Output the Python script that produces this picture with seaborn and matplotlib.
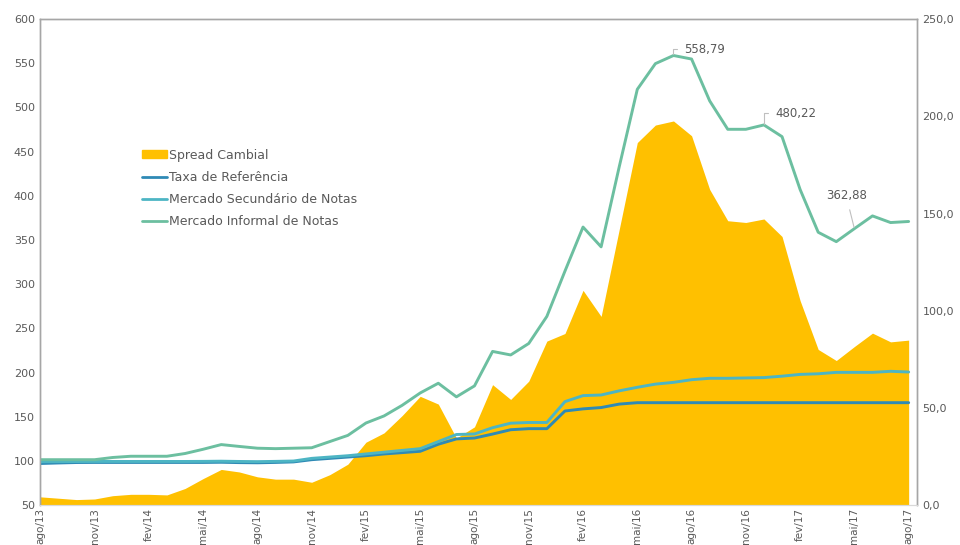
import matplotlib
matplotlib.use("Agg")
import matplotlib.pyplot as plt
import seaborn as sns
import pandas as pd
import numpy as np
from matplotlib.patches import Patch
from matplotlib.lines import Line2D

# monthly series, ago/13 .. ago/17
meses_pt = ["jan", "fev", "mar", "abr", "mai", "jun", "jul", "ago", "set", "out", "nov", "dez"]
periodos = pd.period_range("2013-08", "2017-08", freq="M")
rotulos = [f"{meses_pt[p.month - 1]}/{str(p.year)[2:]}" for p in periodos]

informal = [101.5, 101.5, 101.5, 101.5, 104, 105.4, 105.4, 105.4, 108.5, 113.3,
            118.6, 116.5, 114.5, 114, 114.5, 115, 122, 129, 143, 151,
            163, 177, 188, 172.6, 185, 224, 220, 233, 263.6, 314.8,
            364.7, 342.3, 432.8, 520.5, 549.6, 558.79, 554.8, 507.5, 475.3, 475.3,
            480.22, 467, 407.2, 358.8, 348.2, 362.88, 377.3, 369.8, 371]

secundario = [99.2, 99.3, 99.4, 99.5, 99.5, 99.5, 99.5, 99.5, 99.5, 99.6,
              99.8, 99.5, 99.3, 99.6, 100, 103, 104.5, 106, 108, 110,
              112, 114, 122, 130, 130.6, 137.7, 142.8, 143.6, 143.6, 167.2,
              174, 174.7, 179.4, 183.4, 187, 189, 192, 193.6, 193.6, 194,
              194.4, 196, 198, 198.7, 200.3, 200.3, 200.3, 201.5, 200.7]

referencia = [97.2, 97.8, 98.3, 98.4, 98.4, 98.4, 98.4, 98.4, 98.4, 98.4,
              98.6, 98.2, 98, 98.4, 99, 101.5, 103, 104.5, 106, 108,
              109.5, 111, 119, 125, 126, 130.5, 135.4, 136.6, 136.6, 156.6,
              159, 160.5, 164.4, 166, 166, 166, 166, 166, 166, 166,
              166, 166, 166, 166, 166, 166, 166, 166, 166]

spread = [4.3, 3.6, 2.9, 3.2, 4.9, 5.6, 5.6, 5.3, 8.6, 13.7,
          18.4, 17.1, 14.6, 13.4, 13.4, 11.8, 15.7, 21.1, 32.4, 37.2,
          46.1, 56, 52, 34.5, 40.3, 62, 54.4, 63.8, 84.4, 88.3,
          110.5, 97.1, 141.8, 186.5, 195.5, 197.6, 190, 162.4, 146.3, 145.4,
          147.2, 138.2, 105.2, 80.1, 74.4, 81.6, 88.5, 84, 84.9]

destaques = {35: "558,79", 40: "480,22", 45: "362,88"}

df = pd.DataFrame({"t": np.arange(len(rotulos)), "Taxa de Referência": referencia,
                   "Mercado Secundário de Notas": secundario,
                   "Mercado Informal de Notas": informal, "Spread Cambial": spread})
linhas = df.melt(id_vars="t", value_vars=["Taxa de Referência", "Mercado Secundário de Notas",
                                          "Mercado Informal de Notas"],
                 var_name="serie", value_name="valor")

sns.set_style("white")
plt.rcParams["font.family"] = ["DejaVu Sans"]
cinza = "#595959"
amarelo = "#ffc000"
cores = {"Taxa de Referência": "#2f8ab5",
         "Mercado Secundário de Notas": "#4db5c4",
         "Mercado Informal de Notas": "#6cbfa0"}

fig = plt.figure(figsize=(9.6, 5.45), dpi=100)
ax_area = fig.add_axes([0.042, 0.073, 0.913, 0.892])
ax = ax_area.twinx()

# spread area on the right scale
ax_area.fill_between(df["t"], 0, df["Spread Cambial"], color=amarelo, lw=0)
ax_area.set_ylim(0, 250)
ax_area.set_yticks(np.arange(0, 251, 50))
ax_area.set_yticklabels([f"{v:.1f}".replace(".", ",") for v in np.arange(0, 251, 50)])
ax_area.yaxis.tick_right()

sns.lineplot(data=linhas, x="t", y="valor", hue="serie", palette=cores, lw=2.1,
             ax=ax, legend=False)
ax.set_ylim(50, 600)
ax.set_yticks(np.arange(50, 601, 50))
ax.yaxis.tick_left()
ax.set_xlim(0, 48.45)
ax.set_xlabel("")
ax.set_ylabel("")

ax_area.set_xticks(df["t"][::3])
ax_area.set_xticklabels(rotulos[::3], rotation=90)

for a in (ax, ax_area):
    a.tick_params(axis="both", length=0, labelsize=8, colors=cinza, pad=4)
    for lado in ("top", "left", "right"):
        a.spines[lado].set_color("#a6a6a6")
        a.spines[lado].set_linewidth(1.0)
    a.spines["bottom"].set_color("#d9d9d9")
    a.spines["bottom"].set_linewidth(0.8)
ax.tick_params(axis="x", labelbottom=False)
ax_area.tick_params(axis="x", labelsize=7.5, pad=2)

# data labels with leader lines
deslocs = {35: (0.6, 7, "angle,angleA=0,angleB=90,rad=0"),
           40: (0.65, 13.5, "angle,angleA=0,angleB=90,rad=0"),
           45: (-0.45, 37, "arc3")}
for i, txt in destaques.items():
    dx, dy, estilo = deslocs[i]
    ax.annotate(txt, xy=(i, informal[i]), xytext=(i + dx, informal[i] + dy),
                fontsize=8.5, color=cinza, va="center",
                ha="left" if dx > 0 else "center",
                arrowprops=dict(arrowstyle="-", color="#bfbfbf", lw=0.8,
                                connectionstyle=estilo, shrinkA=3, shrinkB=1))

# legend
handles = [Patch(color=amarelo, label="Spread Cambial")]
handles += [Line2D([], [], color=c, lw=2, label=k) for k, c in cores.items()]
leg = ax.legend(handles=handles, loc="upper left", bbox_to_anchor=(0.116, 0.733),
                frameon=False, fontsize=9, handlelength=2.0, handletextpad=0.15,
                labelspacing=0.72, handleheight=0.6, borderpad=0, borderaxespad=0)
for t in leg.get_texts():
    t.set_color(cinza)

fig.savefig("out.png", dpi=100)
